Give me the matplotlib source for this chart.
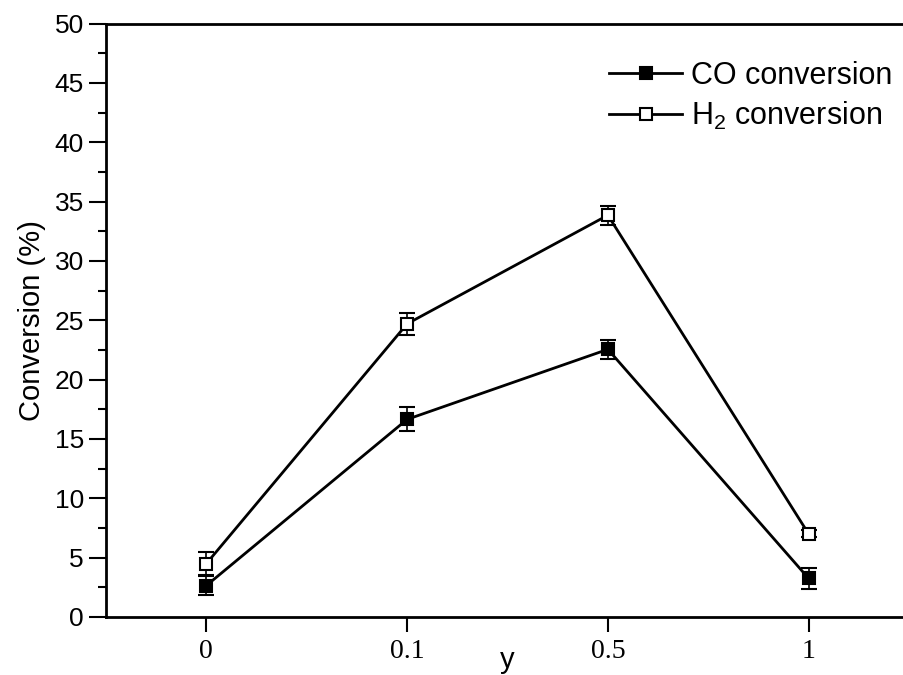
import matplotlib
matplotlib.use("Agg")
import matplotlib.pyplot as plt
from matplotlib.ticker import MultipleLocator
from matplotlib.lines import Line2D

plt.rcParams['font.family'] = ['Liberation Sans', 'DejaVu Sans']
plt.rcParams['mathtext.fontset'] = 'custom'
plt.rcParams['mathtext.rm'] = 'Liberation Sans'
plt.rcParams['mathtext.it'] = 'Liberation Sans:italic'

# Data
y_labels = ['0', '0.1', '0.5', '1']
co_conv = [2.65, 16.65, 22.55, 3.25]
co_err = [0.8, 1.0, 0.8, 0.85]
h2_conv = [4.5, 24.7, 33.85, 7.0]
h2_err = [0.95, 0.95, 0.8, 0.3]

W, H = 904, 675
fig = plt.figure(figsize=(W / 100, H / 100), dpi=100)
ax = fig.add_axes([106 / W, 1 - 617 / H, 803 / W, (617 - 23.5) / H])

xs = list(range(len(y_labels)))
ebkw = dict(elinewidth=1.2, capsize=5.5, capthick=1.2, ecolor='black')
ax.errorbar(xs, co_conv, yerr=co_err, color='black', lw=2, marker='s',
            ms=8.5, mfc='black', mec='black', mew=1.5, **ebkw)
ax.errorbar(xs, h2_conv, yerr=h2_err, color='black', lw=2, marker='s',
            ms=8.5, mfc='white', mec='black', mew=1.5, **ebkw)

ax.set_xlim(-0.5, 3.5)
ax.set_ylim(0, 50)
ax.set_xticks(xs)
ax.set_xticklabels(y_labels, fontfamily='Liberation Serif', fontsize=20)
ax.yaxis.set_major_locator(MultipleLocator(5))
ax.yaxis.set_minor_locator(MultipleLocator(2.5))
ax.tick_params(axis='y', which='major', direction='out', length=12, width=1.5,
               labelsize=19, pad=4)
ax.tick_params(axis='y', which='minor', direction='out', length=6, width=1.5)
ax.tick_params(axis='x', which='major', direction='out', length=11, width=1.5,
               pad=5)
ax.tick_params(top=False, right=False)
for s in ax.spines.values():
    s.set_linewidth(2)
ax.spines['right'].set_visible(False)

ax.set_ylabel('Conversion (%)', fontsize=21, labelpad=6)
ax.set_xlabel('y', fontsize=21, labelpad=-13)

handles = [
    Line2D([], [], color='black', lw=2, marker='s', ms=8.5,
           mfc='black', mec='black', mew=1.5),
    Line2D([], [], color='black', lw=2, marker='s', ms=8.5,
           mfc='white', mec='black', mew=1.5),
]
labels = ['CO conversion', r'H$_2$ conversion']
leg = ax.legend(handles, labels, loc='upper left',
                bbox_to_anchor=(609 / W, 1 - 61 / H),
                bbox_transform=fig.transFigure, frameon=False, fontsize=22,
                handlelength=2.4, handletextpad=0.3, labelspacing=0.3,
                borderpad=0, borderaxespad=0)

fig.savefig('out.png', dpi=100)
